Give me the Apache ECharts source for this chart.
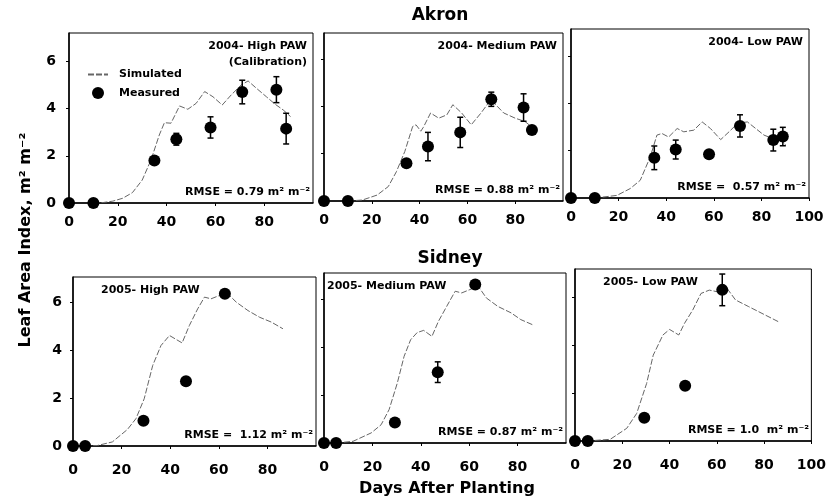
<!DOCTYPE html>
<html>
<head>
<meta charset="utf-8">
<script src="https://cdn.jsdelivr.net/npm/echarts@6/dist/echarts.min.js"></script>
<style>
  html, body { margin: 0; padding: 0; background: #fff; }
  #LAI { width: 829px; height: 504px; }
</style>
</head>
<body>
<div id="LAI"></div>
<script>
// x ticks
var xTicksShort = [0, 20, 40, 60, 80];
var xTicksLong = [0, 20, 40, 60, 80, 100];
var yTicks = [0, 2, 4, 6];

// simulated LAI  [day, LAI]
var akronHighSim = [[10,0],[14,0.02],[18,0.08],[22,0.2],[26,0.44],[30,0.97],[33.6,1.82],[37,2.88],[39.1,3.4],[41.8,3.38],[45.3,4.11],[48.7,3.97],[52.1,4.22],[55.6,4.72],[59,4.5],[62.8,4.15],[66.5,4.58],[70.6,5.0],[73.4,5.17],[76.8,4.86],[80.9,4.5],[84.4,4.19],[87.8,3.94],[90.8,3.66]];
var akronMedSim = [[10,0],[16,0.04],[22.2,0.25],[26.9,0.61],[30.3,1.24],[33.8,2.09],[37.1,3.15],[38.5,3.22],[40.5,2.95],[41.6,3.12],[44.6,3.72],[48,3.5],[51.4,3.64],[53.9,4.07],[57.6,3.72],[61.6,3.22],[65.7,3.72],[69.8,4.28],[75.2,3.72],[80,3.5],[84.1,3.36],[87.5,3.08]];
var akronLowSim = [[10,0],[19.3,0.11],[24.9,0.4],[29.1,0.75],[33.3,1.74],[36.1,2.66],[38.2,2.73],[41,2.58],[44.6,2.94],[47.4,2.8],[51.6,2.87],[55.1,3.22],[58.6,2.94],[62.9,2.47],[66.4,2.8],[69.9,3.15],[74.1,3.22],[77.6,2.94],[81.1,2.66],[84.7,2.52],[88.2,2.44],[90.3,2.23]];
var sidneyHighSim = [[5,0],[10,0.02],[16.2,0.17],[22.4,0.69],[25.9,1.14],[29.3,1.97],[32.8,3.36],[36.2,4.19],[39.7,4.61],[44.9,4.3],[47.9,5.03],[51.3,5.72],[54.1,6.21],[56.8,6.14],[60.3,6.28],[63.7,6.35],[67.2,6.0],[72,5.65],[76.8,5.37],[81.6,5.17],[86.4,4.89]];
var sidneyMedSim = [[5,0],[12,0.07],[19.5,0.42],[23.6,0.76],[26.9,1.39],[30.3,2.5],[33.1,3.61],[35.8,4.3],[38.5,4.6],[41.2,4.69],[44.6,4.44],[47.3,5.07],[50.7,5.69],[54.2,6.32],[56.9,6.25],[60.3,6.39],[63.7,6.53],[67.1,6.04],[71.8,5.69],[77.3,5.42],[81.3,5.14],[86.1,4.93]];
var sidneyLowSim = [[5,0],[14.9,0.07],[21.9,0.53],[26.1,1.15],[30.3,2.4],[33.1,3.58],[37.2,4.42],[40,4.65],[43.9,4.42],[46.3,4.9],[49.8,5.46],[53.3,6.15],[56.8,6.29],[60.3,6.22],[63.8,6.43],[67.9,5.88],[73.5,5.6],[79.1,5.32],[86.1,4.97]];

// measured LAI  [day, LAI, error]
var akronHighObs = [[0,0,0],[10,0,0],[35,1.8,0],[44,2.7,0.25],[58,3.2,0.45],[71,4.7,0.5],[85,4.8,0.55],[89,3.15,0.65]];
var akronMedObs = [[0,0,0],[10,0,0],[34.5,1.6,0],[43.5,2.3,0.6],[57,2.9,0.64],[70,4.3,0.3],[83.5,3.95,0.58],[87,3.0,0]];
var akronLowObs = [[0,0,0],[10,0,0],[35,1.7,0.5],[44,2.05,0.4],[58,1.85,0],[71,3.05,0.47],[85,2.45,0.46],[89,2.6,0.39]];
var sidneyHighObs = [[0,0,0],[5,0,0],[29,1.05,0],[46.5,2.7,0.15],[62.5,6.35,0]];
var sidneyMedObs = [[0,0,0],[5,0,0],[29.3,0.85,0],[47,2.95,0.43],[62.5,6.6,0.15]];
var sidneyLowObs = [[0,0,0],[5.4,0,0],[29.3,0.97,0],[46.6,2.3,0.15],[62.3,6.3,0.66]];

var panelTitles = ['2004- High PAW', '2004- Medium PAW', '2004- Low PAW', '2005- High PAW', '2005- Medium PAW', '2005- Low PAW'];
var rmseText = ['RMSE = 0.79 m\u00b2 m\u207b\u00b2', 'RMSE = 0.88 m\u00b2 m\u207b\u00b2', 'RMSE =  0.57 m\u00b2 m\u207b\u00b2',
                'RMSE =  1.12 m\u00b2 m\u207b\u00b2', 'RMSE = 0.87 m\u00b2 m\u207b\u00b2', 'RMSE = 1.0  m\u00b2 m\u207b\u00b2'];

var sims = [akronHighSim, akronMedSim, akronLowSim, sidneyHighSim, sidneyMedSim, sidneyLowSim];
var obs = [akronHighObs, akronMedObs, akronLowObs, sidneyHighObs, sidneyMedObs, sidneyLowObs];

// panel boxes (px)
var boxes = [
  {left: 69,  top: 33,  width: 244, height: 170, ymax: 7.2},
  {left: 324, top: 33,  width: 239, height: 168, ymax: 7.1},
  {left: 571, top: 29,  width: 238, height: 169, ymax: 7.15},
  {left: 73,  top: 277, width: 243, height: 169, ymax: 7.05},
  {left: 324, top: 273, width: 242, height: 170, ymax: 7.08},
  {left: 575, top: 269, width: 237, height: 172, ymax: 7.17}
];

var FONT = 'DejaVu Sans';
var grids = [], xAxes = [], yAxes = [], series = [], graphics = [];

boxes.forEach(function (b, i) {
  var col = i % 3, row = Math.floor(i / 3);
  grids.push({left: b.left, top: b.top, width: b.width, height: b.height,
              show: true, borderColor: '#000', borderWidth: 1});
  xAxes.push({
    type: 'value', gridIndex: i, min: 0, max: 100,
    splitLine: {show: false},
    axisLine: {lineStyle: {color: '#000', width: 1.5}},
    axisTick: {length: 3, lineStyle: {color: '#000'}, customValues: col == 2 ? xTicksLong : xTicksShort},
    axisLabel: {customValues: col == 2 ? xTicksLong : xTicksShort, margin: row == 0 ? 12 : 17,
                color: '#000', fontFamily: FONT, fontWeight: 'bold', fontSize: 14}
  });
  yAxes.push({
    type: 'value', gridIndex: i, min: 0, max: b.ymax,
    splitLine: {show: false},
    axisLine: {show: true, lineStyle: {color: '#000', width: 1.5}},
    axisTick: {length: 3, lineStyle: {color: '#000'}, customValues: yTicks},
    axisLabel: {show: col == 0, customValues: yTicks, margin: row == 0 ? 13 : 11,
                color: '#000', fontFamily: FONT, fontWeight: 'bold', fontSize: 14}
  });

  series.push({
    name: 'Simulated', type: 'line', xAxisIndex: i, yAxisIndex: i,
    data: sims[i], symbol: 'none', silent: true,
    itemStyle: {color: '#666'},
    lineStyle: {color: '#666', width: 1, type: [6, 2]}
  });
  series.push({
    name: 'Measured', type: 'scatter', xAxisIndex: i, yAxisIndex: i,
    data: obs[i].map(function (d) { return [d[0], d[1]]; }),
    symbol: 'circle', symbolSize: 12, itemStyle: {color: '#000', opacity: 1}, z: 4
  });
  // error bars
  series.push({
    type: 'custom', xAxisIndex: i, yAxisIndex: i, z: 5, silent: true,
    data: obs[i].filter(function (d) { return d[2] > 0; })
                .map(function (d) { return [d[0], d[1] - d[2], d[1] + d[2]]; }),
    renderItem: function (params, api) {
      var lo = api.coord([api.value(0), api.value(1)]);
      var hi = api.coord([api.value(0), api.value(2)]);
      var st = {stroke: '#000', lineWidth: 1.5};
      return {type: 'group', children: [
        {type: 'line', shape: {x1: lo[0], y1: lo[1], x2: hi[0], y2: hi[1]}, style: st},
        {type: 'line', shape: {x1: lo[0] - 3, y1: lo[1], x2: lo[0] + 3, y2: lo[1]}, style: st},
        {type: 'line', shape: {x1: hi[0] - 3, y1: hi[1], x2: hi[0] + 3, y2: hi[1]}, style: st}
      ]};
    }
  });

  // panel labels
  var tx = row == 0 ? b.left + b.width - 6 : b.left + 28;
  if (i == 4) tx = b.left + 3;
  graphics.push({type: 'text', x: tx, y: b.top + 13,
    style: {text: panelTitles[i], fill: '#000', font: 'bold 11px "' + FONT + '"',
            textAlign: row == 0 ? 'right' : 'left', textVerticalAlign: 'middle'}});
  graphics.push({type: 'text', x: b.left + b.width - 3, y: b.top + b.height - 11,
    style: {text: rmseText[i], fill: '#000', font: 'bold 11px "' + FONT + '"',
            textAlign: 'right', textVerticalAlign: 'middle'}});
});

graphics.push({type: 'text', x: 307, y: 62,
  style: {text: '(Calibration)', fill: '#000', font: 'bold 11px "' + FONT + '"',
          textAlign: 'right', textVerticalAlign: 'middle'}});
graphics.push({type: 'text', x: 440, y: 16,
  style: {text: 'Akron', fill: '#000', font: 'bold 17px "' + FONT + '"', textAlign: 'center', textVerticalAlign: 'middle'}});
graphics.push({type: 'text', x: 450, y: 259,
  style: {text: 'Sidney', fill: '#000', font: 'bold 17px "' + FONT + '"', textAlign: 'center', textVerticalAlign: 'middle'}});
graphics.push({type: 'text', x: 447, y: 489,
  style: {text: 'Days After Planting', fill: '#000', font: 'bold 16px "' + FONT + '"', textAlign: 'center', textVerticalAlign: 'middle'}});
graphics.push({type: 'text', x: 26, y: 240, rotation: Math.PI / 2,
  style: {text: 'Leaf Area Index, m\u00b2 m\u207b\u00b2', fill: '#000', font: 'bold 16px "' + FONT + '"',
          textAlign: 'center', textVerticalAlign: 'middle'}});

var chart = echarts.init(document.getElementById('LAI'));
chart.setOption({
  animation: false,
  backgroundColor: '#fff',
  grid: grids,
  xAxis: xAxes,
  yAxis: yAxes,
  legend: {
    data: [{name: 'Simulated', itemStyle: {opacity: 0}}, {name: 'Measured'}],
    orient: 'vertical', left: 82, top: 64, itemGap: 7,
    itemWidth: 20, itemHeight: 12, selectedMode: false,
    textStyle: {fontFamily: FONT, fontWeight: 'bold', fontSize: 11, color: '#000', padding: [0, 0, 0, 6]}
  },
  series: series,
  graphic: graphics
});
</script>
</body>
</html>
